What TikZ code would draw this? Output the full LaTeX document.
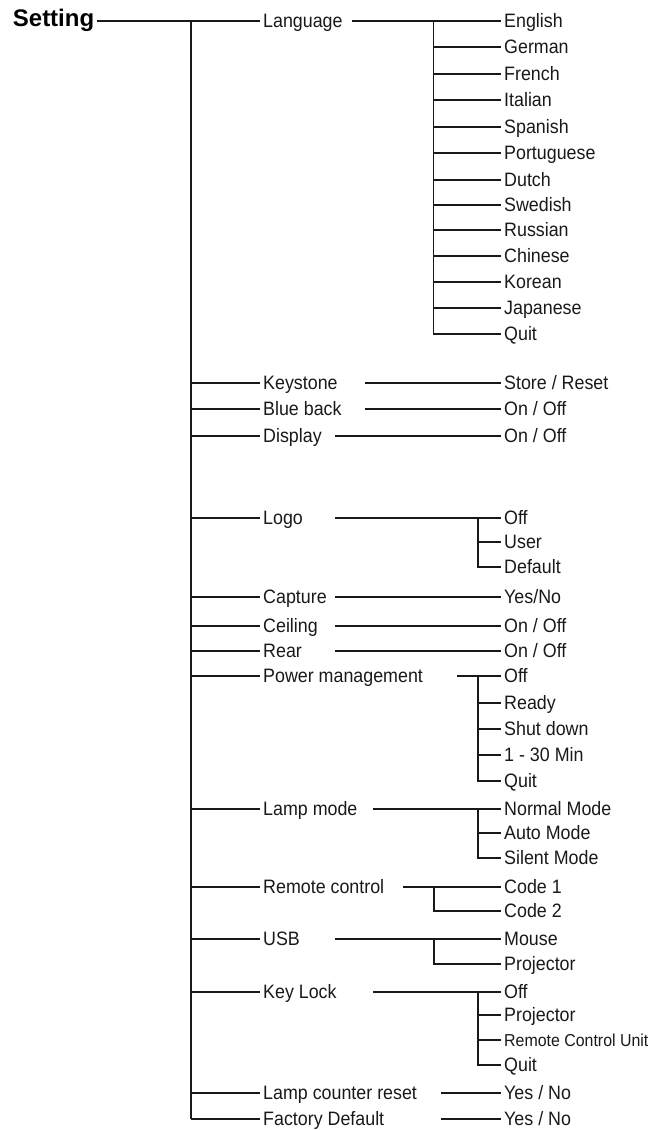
\documentclass[tikz,border=0pt]{standalone}
\usepackage{fontspec}
\setmainfont{Liberation Sans}
\newfontfamily\condfont[FakeStretch=0.92]{Liberation Sans}
\tikzset{
  lab/.style={anchor=west, inner xsep=3pt, inner ysep=0pt, text height=12pt, text depth=0pt, font=\condfont\fontsize{19.4}{19.4}\selectfont, text=black!90},
  smalllab/.style={lab, font=\condfont\fontsize{17.3}{17.3}\selectfont},
  ln/.style={line width=1.1pt, draw=black!90},
}
\begin{document}
\begin{tikzpicture}[x=1pt,y=-1pt]
\useasboundingbox (0,0) rectangle (662,1130);
% root
\node[anchor=west, inner xsep=2.5pt, inner ysep=0pt, text height=11pt, text depth=0pt, font=\bfseries\fontsize{24}{24}\selectfont] (setting) at (10.2,21) {Setting};
\coordinate (tTop) at (191,21);
\coordinate (tBot) at (191,1119);
% main items
\node[lab] (language) at (260,21) {Language};
\node[lab] (keystone) at (260,383) {Keystone};
\node[lab] (blueback) at (260,409) {Blue back};
\node[lab] (display) at (260,436) {Display};
\node[lab] (logo) at (260,518) {Logo};
\node[lab] (capture) at (260,597) {Capture};
\node[lab] (ceiling) at (260,626) {Ceiling};
\node[lab] (rear) at (260,651) {Rear};
\node[lab] (power) at (260,676) {Power management};
\node[lab] (lampmode) at (260,809) {Lamp mode};
\node[lab] (remote) at (260,887) {Remote control};
\node[lab] (usb) at (260,939) {USB};
\node[lab] (keylock) at (260,992) {Key Lock};
\node[lab] (lampreset) at (260,1093) {Lamp counter reset};
\node[lab] (factory) at (260,1119) {Factory Default};
% language children
\node[lab] (en) at (501,21) {English};
\node[lab] (de) at (501,47) {German};
\node[lab] (fr) at (501,74) {French};
\node[lab] (it) at (501,100) {Italian};
\node[lab] (es) at (501,127) {Spanish};
\node[lab] (pt) at (501,153) {Portuguese};
\node[lab] (nl) at (501,180) {Dutch};
\node[lab] (sv) at (501,205) {Swedish};
\node[lab] (ru) at (501,230) {Russian};
\node[lab] (zh) at (501,256) {Chinese};
\node[lab] (ko) at (501,282) {Korean};
\node[lab] (ja) at (501,308) {Japanese};
\node[lab] (lquit) at (501,334) {Quit};
% other children
\node[lab] (ksr) at (501,383) {Store / Reset};
\node[lab] (bbo) at (501,409) {On / Off};
\node[lab] (dio) at (501,436) {On / Off};
\node[lab] (logooff) at (501,518) {Off};
\node[lab] (logouser) at (501,542) {User};
\node[lab] (logodef) at (501,567) {Default};
\node[lab] (capyn) at (501,597) {Yes/No};
\node[lab] (ceilo) at (501,626) {On / Off};
\node[lab] (rearo) at (501,651) {On / Off};
\node[lab] (poff) at (501,676) {Off};
\node[lab] (pready) at (501,703) {Ready};
\node[lab] (pshut) at (501,729) {Shut down};
\node[lab] (pmin) at (501,755) {1 - 30 Min};
\node[lab] (pquit) at (501,781) {Quit};
\node[lab] (lnorm) at (501,809) {Normal Mode};
\node[lab] (lauto) at (501,833) {Auto Mode};
\node[lab] (lsil) at (501,858) {Silent Mode};
\node[lab] (rc1) at (501,887) {Code 1};
\node[lab] (rc2) at (501,911) {Code 2};
\node[lab] (umouse) at (501,939) {Mouse};
\node[lab] (uproj) at (501,964) {Projector};
\node[lab] (koff) at (501,992) {Off};
\node[lab] (kproj) at (501,1015) {Projector};
\node[smalllab] (krcu) at (501,1040) {Remote Control Unit};
\node[lab] (kquit) at (501,1065) {Quit};
\node[lab] (lryn) at (501,1093) {Yes / No};
\node[lab] (fdyn) at (501,1119) {Yes / No};
% main trunk
\draw[ln] (setting.east) -- (language.west);
\draw[ln] (tTop) -- (tBot);
\foreach \n in {keystone,blueback,display,logo,capture,ceiling,rear,power,lampmode,remote,usb,keylock,lampreset,factory}
  \draw[ln] (tTop |- \n.west) -- (\n.west);
% language subtree
\coordinate (langS) at (352,21);
\coordinate (langT) at (433.5,21);
\draw[ln] (langS) -- (en.west);
\draw[ln] (langT) -- (langT |- lquit.west) -- (lquit.west);
\foreach \n in {de,fr,it,es,pt,nl,sv,ru,zh,ko,ja}
  \draw[ln] (langT |- \n.west) -- (\n.west);
% single links
\coordinate (ksS) at (365,383);
\coordinate (bbS) at (365,409);
\coordinate (diS) at (335,436);
\coordinate (capS) at (335,597);
\coordinate (ceS) at (335,626);
\coordinate (reS) at (335,651);
\coordinate (lrS) at (441,1093);
\coordinate (fdS) at (441,1119);
\draw[ln] (ksS) -- (ksr.west);
\draw[ln] (bbS) -- (bbo.west);
\draw[ln] (diS) -- (dio.west);
\draw[ln] (capS) -- (capyn.west);
\draw[ln] (ceS) -- (ceilo.west);
\draw[ln] (reS) -- (rearo.west);
\draw[ln] (lrS) -- (lryn.west);
\draw[ln] (fdS) -- (fdyn.west);
% logo
\coordinate (logoS) at (335,518);
\coordinate (logoT) at (478,518);
\draw[ln] (logoS) -- (logooff.west);
\draw[ln] (logoT) -- (logoT |- logodef.west) -- (logodef.west);
\draw[ln] (logoT |- logouser.west) -- (logouser.west);
% power
\coordinate (powS) at (457,676);
\coordinate (powT) at (478,676);
\draw[ln] (powS) -- (poff.west);
\draw[ln] (powT) -- (powT |- pquit.west) -- (pquit.west);
\foreach \n in {pready,pshut,pmin}
  \draw[ln] (powT |- \n.west) -- (\n.west);
% lamp mode
\coordinate (lmS) at (373,809);
\coordinate (lmT) at (478,809);
\draw[ln] (lmS) -- (lnorm.west);
\draw[ln] (lmT) -- (lmT |- lsil.west) -- (lsil.west);
\draw[ln] (lmT |- lauto.west) -- (lauto.west);
% remote
\coordinate (rcS) at (403,887);
\coordinate (rcT) at (434,887);
\draw[ln] (rcS) -- (rc1.west);
\draw[ln] (rcT) -- (rcT |- rc2.west) -- (rc2.west);
% usb
\coordinate (usS) at (335,939);
\coordinate (usT) at (434,939);
\draw[ln] (usS) -- (umouse.west);
\draw[ln] (usT) -- (usT |- uproj.west) -- (uproj.west);
% key lock
\coordinate (klS) at (373,992);
\coordinate (klT) at (478,992);
\draw[ln] (klS) -- (koff.west);
\draw[ln] (klT) -- (klT |- kquit.west) -- (kquit.west);
\foreach \n in {kproj,krcu}
  \draw[ln] (klT |- \n.west) -- (\n.west);
\end{tikzpicture}
\end{document}
